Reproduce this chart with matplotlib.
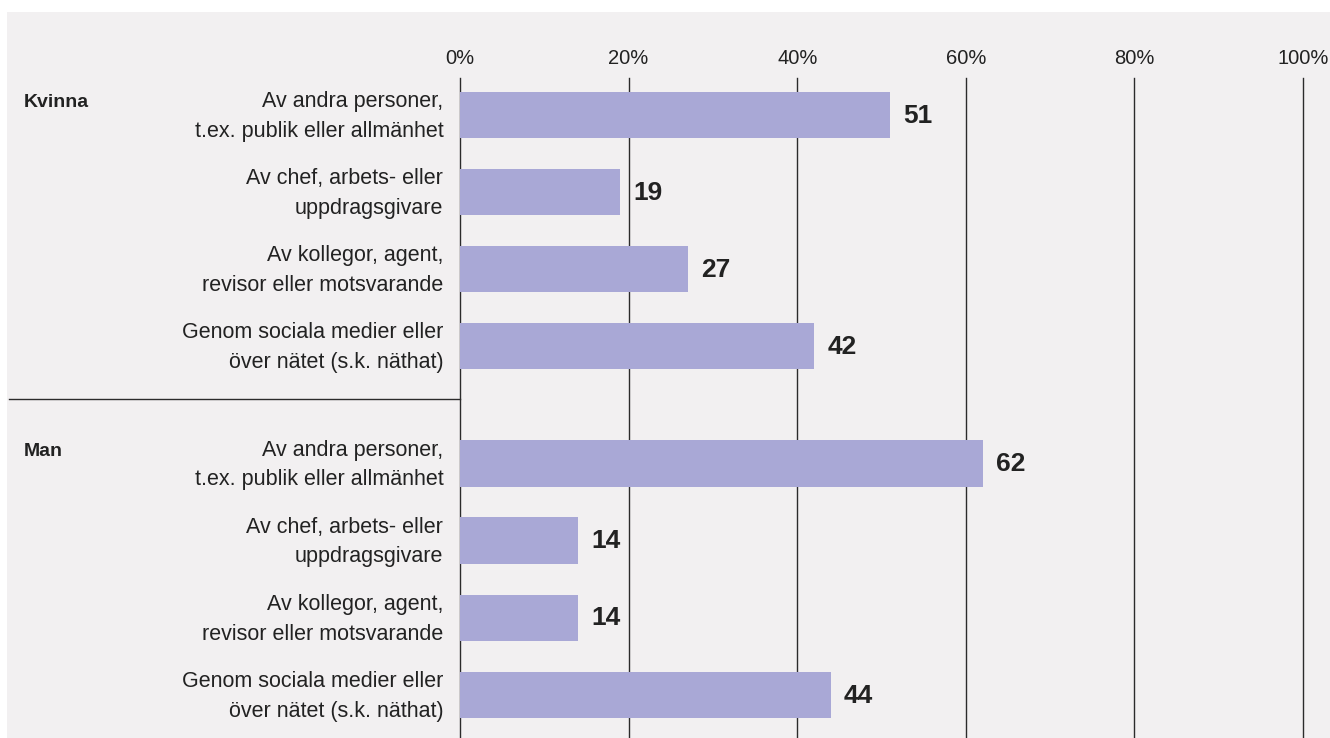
"""Horizontal bar chart: share reporting harassment, by source and gender."""
import matplotlib.pyplot as plt
import matplotlib.patches as patches
import matplotlib.transforms as mtransforms

plt.rcParams["font.family"] = ["Liberation Sans", "DejaVu Sans"]

groups = ["Kvinna", "Man"]
categories = [
    "Av andra personer,\nt.ex. publik eller allmänhet",
    "Av chef, arbets- eller\nuppdragsgivare",
    "Av kollegor, agent,\nrevisor eller motsvarande",
    "Genom sociala medier eller\növer nätet (s.k. näthat)",
]
kvinna_values = [51, 19, 27, 42]
man_values = [62, 14, 14, 44]
xticks = [0, 20, 40, 60, 80, 100]
xtick_labels = ["0%", "20%", "40%", "60%", "80%", "100%"]

BG = "#f2f0f1"
BAR = "#a9a8d6"
INK = "#222222"
GRID = "#2b2b2b"
GAP = 0.52  # extra space between the two groups, in row units

W, H = 1330, 738
fig = plt.figure(figsize=(W / 100, H / 100), dpi=100)
fig.patch.set_facecolor("white")
fig.patches.append(patches.Rectangle((7 / W, 0), 1, (H - 12) / H,
                                     transform=fig.transFigure,
                                     facecolor=BG, edgecolor="none", zorder=-10))

ax = fig.add_axes([460 / W, 0, 843 / W, (H - 78) / H])
ax.set_facecolor("none")
for s in ax.spines.values():
    s.set_visible(False)

n = len(categories)
blend = mtransforms.blended_transform_factory(ax.transAxes, ax.transData)

last_y = 0
for g, (name, vals) in enumerate(zip(groups, [kvinna_values, man_values])):
    ys = [g * (n + GAP) + i for i in range(n)]
    ax.barh(ys, vals, height=0.6, color=BAR, zorder=2)
    for y, v, cat in zip(ys, vals, categories):
        ax.annotate(str(v), xy=(v, y), xytext=(9.5, -0.5), textcoords="offset points",
                    ha="left", va="center", fontsize=19, fontweight="bold", color=INK)
        ax.annotate(cat, xy=(0, y), xytext=(-12, -1), textcoords="offset points",
                    ha="right", va="center", fontsize=15.5, color=INK, linespacing=1.55)
    ax.annotate(name, xy=(24 / W, ys[0]), xycoords=("figure fraction", "data"),
                xytext=(0, 9), textcoords="offset points",
                ha="left", va="center", fontsize=14, fontweight="bold", color=INK)
    if g == 0:
        ysep = ys[-1] + 0.68
        ax.plot([(9 - 460) / 843, 0], [ysep, ysep], transform=blend,
                color=GRID, lw=1.0, clip_on=False, zorder=3)
    last_y = ys[-1]

for t in xticks:
    ax.axvline(t, color=GRID, lw=1.0, zorder=1, clip_on=False)

ax.set_xlim(0, 100)
ax.set_ylim(last_y + 0.56, -0.48)
ax.set_yticks([])
ax.xaxis.tick_top()
ax.set_xticks(xticks)
ax.set_xticklabels(xtick_labels)
ax.tick_params(axis="x", length=0, pad=7, labelsize=14.5, labelcolor=INK)

fig.savefig("out.png", dpi=100, facecolor=fig.get_facecolor())
